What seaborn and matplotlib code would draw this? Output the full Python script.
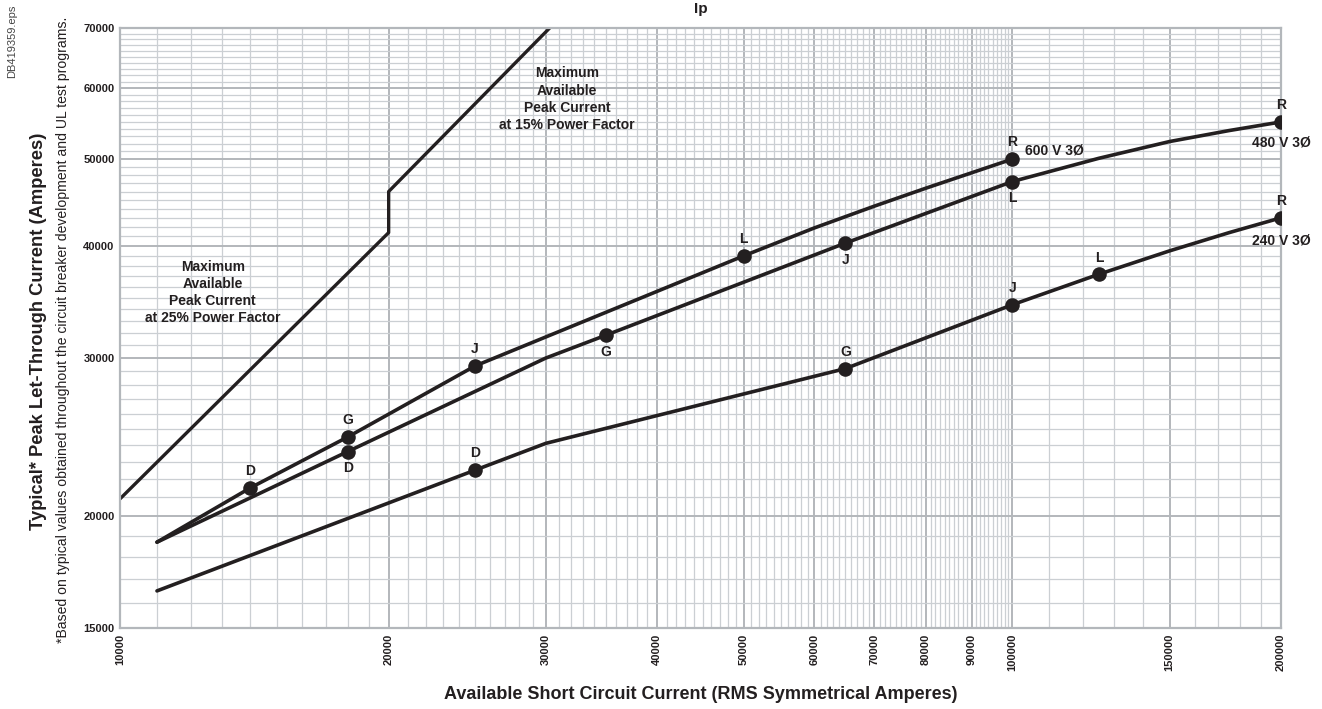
import numpy as np
import pandas as pd
import seaborn as sns
import matplotlib.pyplot as plt
from matplotlib.ticker import FixedLocator, NullFormatter

# axis ticks
x_ticks = [10000, 20000, 30000, 40000, 50000, 60000, 70000, 80000, 90000,
           100000, 150000, 200000]
y_ticks = [15000, 20000, 30000, 40000, 50000, 60000, 70000]

# maximum available peak current (25% PF then 15% PF)
x_max = [10000, 20000, 20000, 30300]
y_max = [20900, 41400, 46000, 70000]

# 600 V 3Ø
x_600 = [11000, 14000, 18000, 25000, 50000, 60000, 70000, 80000, 100000]
y_600 = [18700, 21500, 24500, 29400, 39000, 41900, 44300, 46400, 50000]
pts_600 = ["", "D", "G", "J", "L", "", "", "", "R"]

# 480 V 3Ø
x_480 = [11000, 18000, 30000, 35000, 65000, 100000, 125000, 150000, 175000, 200000]
y_480 = [18700, 23600, 30000, 31800, 40300, 47200, 50100, 52300, 53800, 55000]
pts_480 = ["", "D", "", "G", "J", "L", "", "", "", "R"]

# 240 V 3Ø
x_240 = [11000, 25000, 30000, 65000, 100000, 125000, 150000, 175000, 200000]
y_240 = [16500, 22500, 24100, 29200, 34400, 37200, 39500, 41400, 43000]
pts_240 = ["", "D", "", "G", "J", "L", "", "", "R"]

sns.set_theme(style="white")
plt.rcParams["font.family"] = ["Liberation Sans", "DejaVu Sans"]

ink = "#231f20"
fig = plt.figure(figsize=(13.22, 7.09), dpi=100)
ax = fig.add_axes([0.0908, 0.1142, 0.8782, 0.8463])
ax.set_xscale("log")
ax.set_yscale("log")
ax.set_xlim(10000, 200000)
ax.set_ylim(15000, 70000)

# grid
x_minor = list(range(10000, 100000, 1000)) + list(range(100000, 200001, 10000))
y_minor = list(range(15000, 70001, 1000))
ax.xaxis.set_major_locator(FixedLocator(x_ticks))
ax.yaxis.set_major_locator(FixedLocator(y_ticks))
ax.xaxis.set_minor_locator(FixedLocator(x_minor))
ax.yaxis.set_minor_locator(FixedLocator(y_minor))
ax.xaxis.set_minor_formatter(NullFormatter())
ax.yaxis.set_minor_formatter(NullFormatter())
ax.set_xticklabels([str(v) for v in x_ticks], rotation=90, fontweight="bold", fontsize=8)
ax.set_yticklabels([str(v) for v in y_ticks], fontweight="bold", fontsize=8)
ax.tick_params(which="both", length=0, pad=4, colors=ink)
ax.grid(which="minor", color="#cbcfd3", lw=0.9)
ax.grid(which="major", color="#b3b7bb", lw=1.4)
ax.set_axisbelow(True)
for s in ax.spines.values():
    s.set_color("#b3b7bb")
    s.set_linewidth(1.6)

# curves
sns.lineplot(x=x_max, y=y_max, sort=False, estimator=None, color=ink, lw=2.4, ax=ax)
for xs, ys in [(x_600, y_600), (x_480, y_480), (x_240, y_240)]:
    sns.lineplot(x=xs, y=ys, sort=False, estimator=None, color=ink, lw=2.6, ax=ax)

# marked points and letters
below_480 = {"D", "G", "J", "L"}
for xs, ys, labs, below in [(x_600, y_600, pts_600, set()),
                            (x_480, y_480, pts_480, below_480),
                            (x_240, y_240, pts_240, set())]:
    px = [x for x, l in zip(xs, labs) if l]
    py = [y for y, l in zip(ys, labs) if l]
    sns.scatterplot(x=px, y=py, s=110, color=ink, edgecolor=ink, linewidth=0,
                    zorder=5, ax=ax)
    for x, y, l in zip(xs, ys, labs):
        if not l:
            continue
        dy = -12 if l in below else 12
        ax.annotate(l, (x, y), xytext=(0, dy), textcoords="offset points",
                    ha="center", va="center", fontsize=10, fontweight="bold", color=ink)

# curve names
ax.annotate("600 V 3Ø", (100000, 50000), xytext=(9, 6), textcoords="offset points",
            ha="left", va="center", fontsize=10, fontweight="bold", color=ink)
ax.annotate("480 V 3Ø", (200000, 55000), xytext=(0, -15), textcoords="offset points",
            ha="center", va="center", fontsize=10, fontweight="bold", color=ink)
ax.annotate("240 V 3Ø", (200000, 43000), xytext=(0, -16), textcoords="offset points",
            ha="center", va="center", fontsize=10, fontweight="bold", color=ink)

ax.text(31700, 58300, "Maximum\nAvailable\nPeak Current\nat 15% Power Factor",
        ha="center", va="center", fontsize=10, fontweight="bold", color=ink,
        linespacing=1.3)
ax.text(12700, 35500, "Maximum\nAvailable\nPeak Current\nat 25% Power Factor",
        ha="center", va="center", fontsize=10, fontweight="bold", color=ink,
        linespacing=1.3)

ax.set_title("Ip", fontsize=11, fontweight="bold", color=ink, pad=11)
ax.set_xlabel("Available Short Circuit Current (RMS Symmetrical Amperes)",
              fontsize=13, fontweight="bold", color=ink, labelpad=11)
ax.set_ylabel("")
fig.text(0.029, 0.532, "Typical* Peak Let-Through Current (Amperes)", rotation=90,
         ha="center", va="center", fontsize=13.2, fontweight="bold", color=ink)
fig.text(0.0475, 0.5345, "*Based on typical values obtained throughout the circuit "
         "breaker development and UL test programs.", rotation=90,
         ha="center", va="center", fontsize=10.1, color=ink)
fig.text(0.0095, 0.993, "DB419359.eps", rotation=90, ha="center", va="top",
         fontsize=8, color="#444444")

fig.savefig("out.png", dpi=100)
